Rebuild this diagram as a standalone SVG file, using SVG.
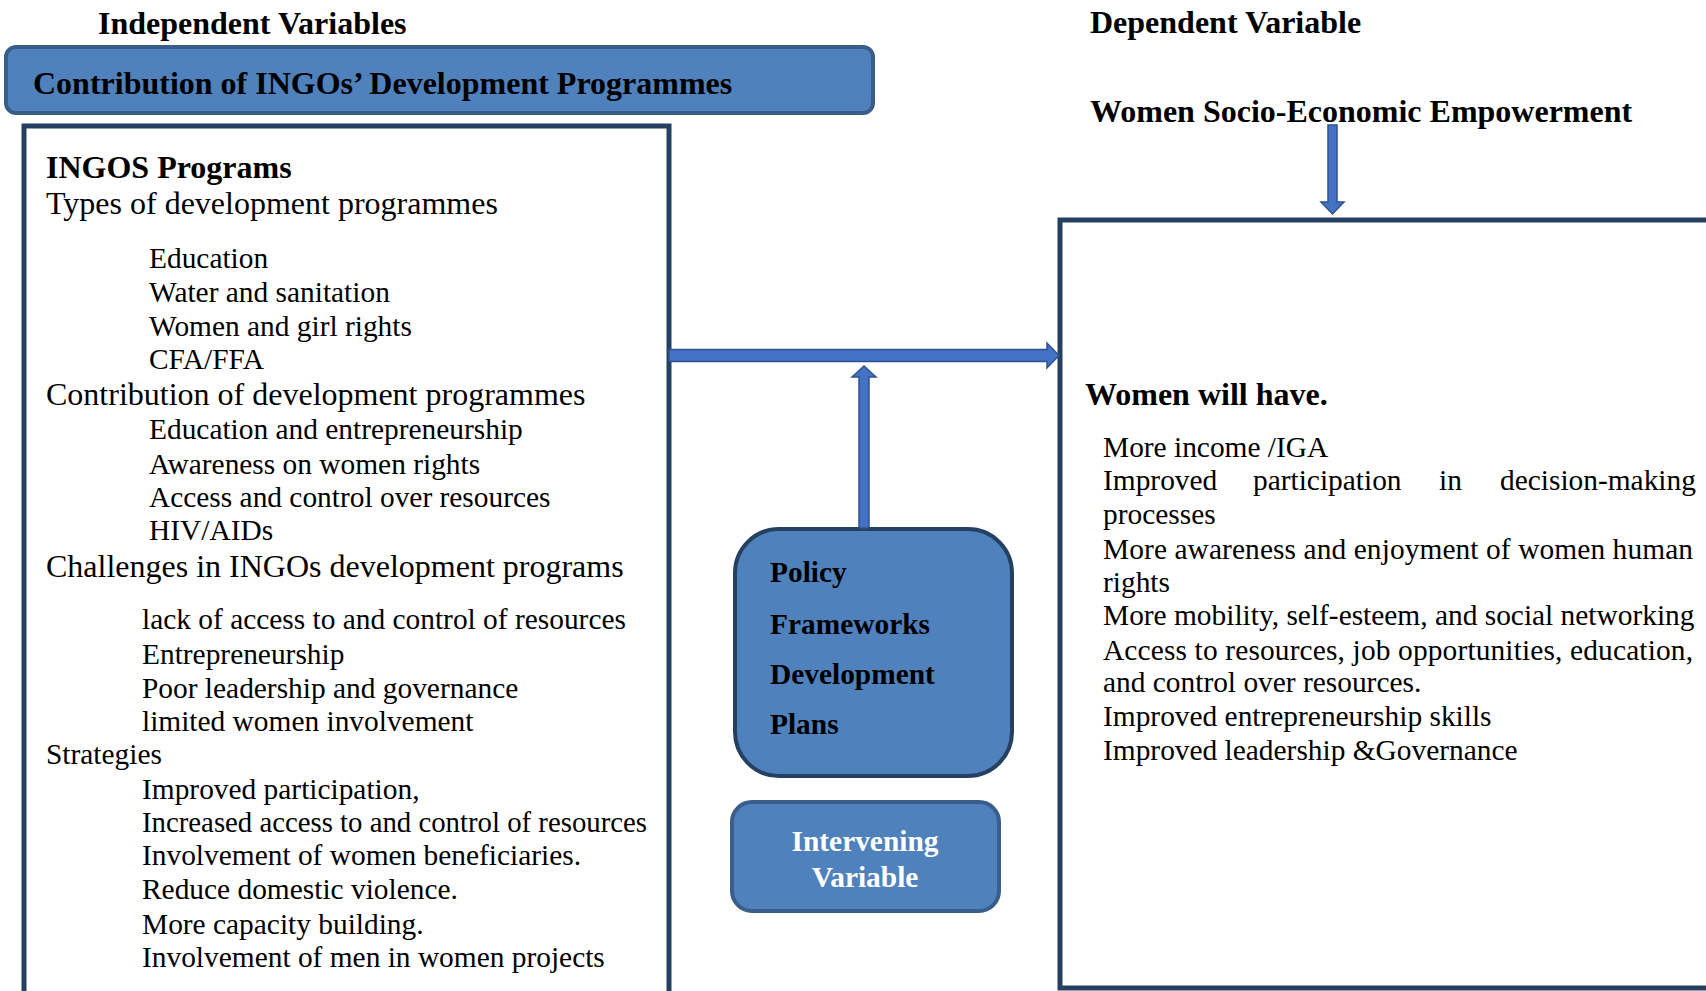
<svg xmlns="http://www.w3.org/2000/svg" width="1706" height="991" viewBox="0 0 1706 991">
<style>
text{font-family:"Liberation Serif","Times New Roman",serif;fill:#000}
.h{font-weight:bold;font-size:32px}
.hd{font-size:32px}
.b{font-size:29.4px}
.pb{font-weight:bold;font-size:29.4px}
.wb{font-weight:bold;font-size:29.4px;fill:#fff;text-anchor:middle}
.frame{fill:#fff;stroke:#254061;stroke-width:5}
.blue{fill:#4f81bd}
.arrow{fill:#4472c4;stroke:#2f528f;stroke-width:1.5}
</style>
<rect width="1706" height="991" fill="#fff"/>

<g id="title-independent">
<text class="h" x="98" y="34">Independent Variables</text>
</g>

<g id="banner">
<rect class="blue" x="6" y="47" width="867" height="66" rx="10" stroke="#385d8a" stroke-width="4"/>
<text class="h" x="33" y="94">Contribution of INGOs’ Development Programmes</text>
</g>

<g id="ingos-programs">
<rect class="frame" x="24" y="126" width="645" height="880"/>
<text class="h" x="46" y="178">INGOS Programs</text>
<text class="hd" x="46" y="214">Types of development programmes</text>
<text class="b" x="149" y="268">Education</text>
<text class="b" x="149" y="302">Water and sanitation</text>
<text class="b" x="149" y="336">Women and girl rights</text>
<text class="b" x="149" y="369">CFA/FFA</text>
<text class="hd" x="46" y="405">Contribution of development programmes</text>
<text class="b" x="149" y="439">Education and entrepreneurship</text>
<text class="b" x="149" y="474">Awareness on women rights</text>
<text class="b" x="149" y="507">Access and control over resources</text>
<text class="b" x="149" y="540">HIV/AIDs</text>
<text class="hd" x="46" y="577">Challenges in INGOs development programs</text>
<text class="b" x="142" y="629">lack of access to and control of resources</text>
<text class="b" x="142" y="664">Entrepreneurship</text>
<text class="b" x="142" y="698">Poor leadership and governance</text>
<text class="b" x="142" y="731">limited women involvement</text>
<text class="b" x="46" y="764">Strategies</text>
<text class="b" x="142" y="799">Improved participation,</text>
<text class="b" x="142" y="832" textLength="505" lengthAdjust="spacingAndGlyphs">Increased access to and control of resources</text>
<text class="b" x="142" y="865">Involvement of women beneficiaries.</text>
<text class="b" x="142" y="899">Reduce domestic violence.</text>
<text class="b" x="142" y="934">More capacity building.</text>
<text class="b" x="142" y="967">Involvement of men in women projects</text>
</g>

<g id="policy">
<rect class="blue" x="735" y="529" width="277" height="247" rx="44" stroke="#254061" stroke-width="4"/>
<text class="pb" x="770" y="582">Policy</text>
<text class="pb" x="770" y="634">Frameworks</text>
<text class="pb" x="770" y="684">Development</text>
<text class="pb" x="770" y="734">Plans</text>
</g>

<g id="intervening">
<rect class="blue" x="732" y="802" width="267" height="109" rx="20" stroke="#3a5e8c" stroke-width="4"/>
<text class="wb" x="865" y="851">Intervening</text>
<text class="wb" x="865" y="887">Variable</text>
</g>

<g id="title-dependent">
<text class="h" x="1090" y="33">Dependent Variable</text>
<text class="h" x="1090" y="122">Women Socio-Economic Empowerment</text>
</g>

<g id="outcomes">
<rect class="frame" x="1060" y="220" width="700" height="768"/>
<text class="h" x="1085" y="405">Women will have.</text>
<text class="b" x="1103" y="457">More income /IGA</text>
<text class="b" y="490"><tspan x="1103">Improved</tspan><tspan x="1253">participation</tspan><tspan x="1439">in</tspan><tspan x="1500">decision-making</tspan></text>
<text class="b" x="1103" y="524">processes</text>
<text class="b" x="1103" y="559" textLength="590" lengthAdjust="spacing">More awareness and enjoyment of women human</text>
<text class="b" x="1103" y="592">rights</text>
<text class="b" x="1103" y="625">More mobility, self-esteem, and social networking</text>
<text class="b" x="1103" y="660" textLength="590" lengthAdjust="spacing">Access to resources, job opportunities, education,</text>
<text class="b" x="1103" y="692">and control over resources.</text>
<text class="b" x="1103" y="726">Improved entrepreneurship skills</text>
<text class="b" x="1103" y="760">Improved leadership &amp;Governance</text>
</g>

<g id="connectors">
<polygon class="arrow" points="669,349.5 1047,349.5 1047,343 1059,355.5 1047,368 1047,361.5 669,361.5"/>
<polygon class="arrow" points="859,528 859,377 852,377 864,366 876,377 869,377 869,528"/>
<polygon class="arrow" points="1328,125 1337,125 1337,202 1344,202 1332.5,214 1321,202 1328,202"/>
</g>
</svg>
